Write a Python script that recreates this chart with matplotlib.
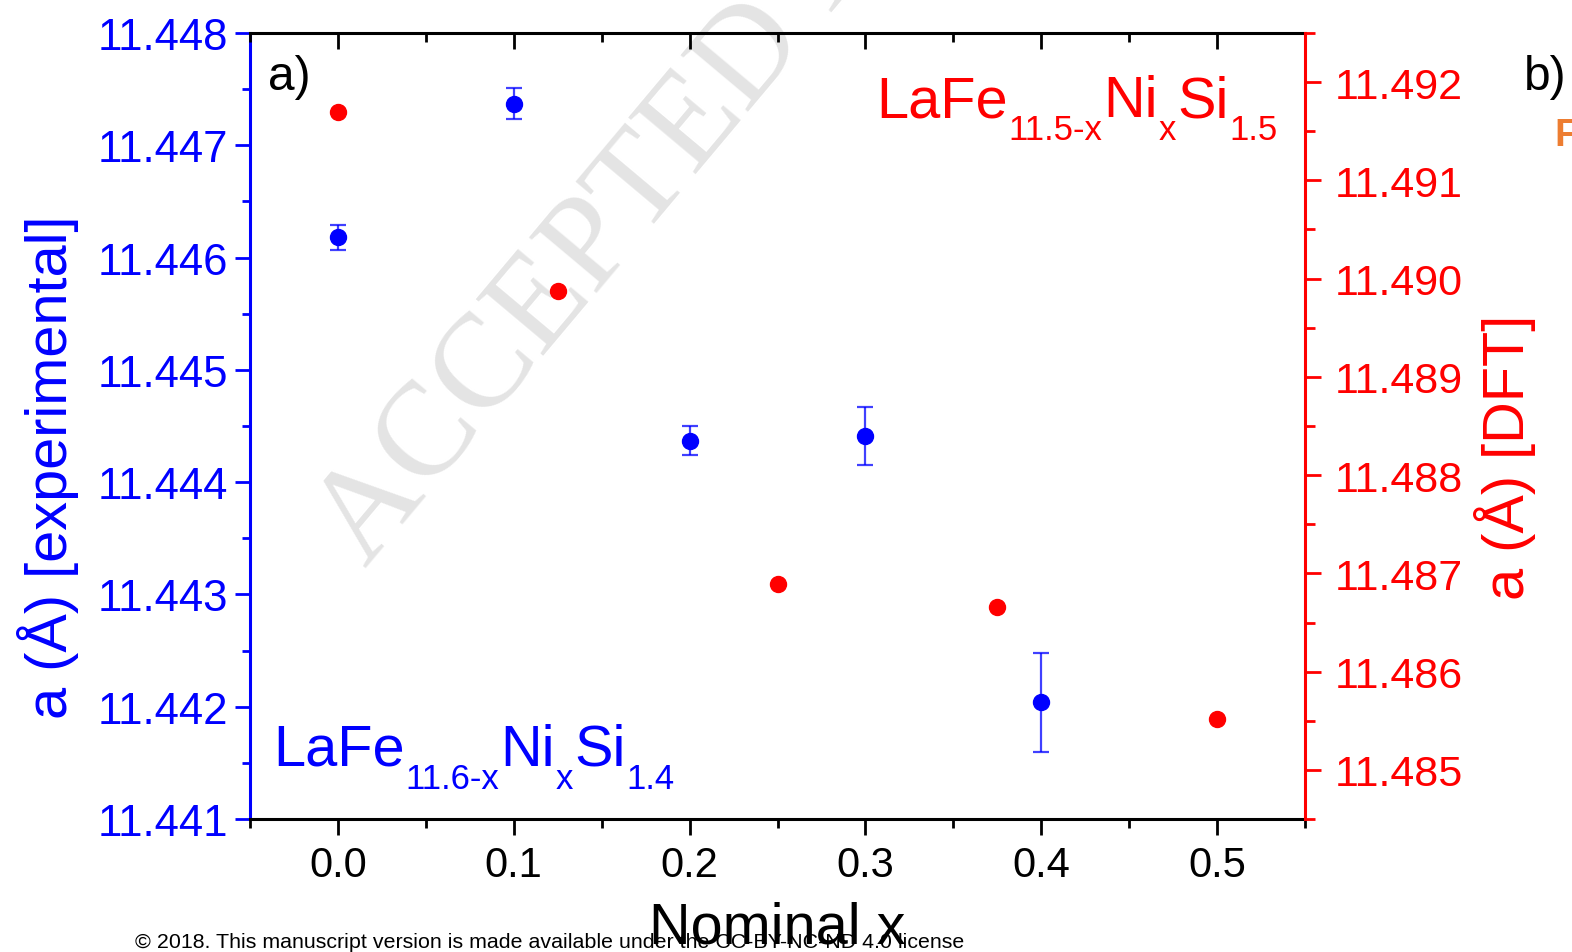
import matplotlib
matplotlib.use("Agg")
import matplotlib.pyplot as plt
from matplotlib.ticker import MultipleLocator, FormatStrFormatter
from matplotlib.transforms import IdentityTransform

plt.rcParams['font.family'] = ['Liberation Sans', 'DejaVu Sans']

# data
x_exp = [0.0, 0.1, 0.2, 0.3, 0.4]
a_exp = [11.44618, 11.44737, 11.44437, 11.44441, 11.44204]
a_exp_err = [0.00011, 0.00014, 0.00013, 0.00026, 0.00044]

x_dft = [0.0, 0.125, 0.25, 0.375, 0.5]
a_dft = [11.4917, 11.48987, 11.48689, 11.48666, 11.48552]

x_ticks = [0.0, 0.1, 0.2, 0.3, 0.4, 0.5]

W, H = 1572, 953
fig = plt.figure(figsize=(W / 100, H / 100), dpi=100)
fig.patch.set_facecolor("white")
ax = fig.add_axes([250 / W, 1 - 820 / H, 1055 / W, 786 / H])
ax2 = ax.twinx()

# experimental (left, blue)
ax.errorbar(x_exp, a_exp, yerr=a_exp_err, fmt='o', color='blue', ms=11.5,
            ecolor=(0, 0, 1, 0.75), elinewidth=1.6, capsize=5.5, capthick=1.6,
            zorder=3)
# DFT (right, red)
ax2.plot(x_dft, a_dft, 'o', color='red', ms=11.5, zorder=3)

ax.set_xlim(-0.05, 0.55)
ax.set_ylim(11.441, 11.448)
ax2.set_ylim(11.4845, 11.4925)

ax.set_xticks(x_ticks)
ax.xaxis.set_minor_locator(MultipleLocator(0.05))
ax.xaxis.set_major_formatter(FormatStrFormatter('%.1f'))
ax.yaxis.set_major_locator(MultipleLocator(0.001))
ax.yaxis.set_minor_locator(MultipleLocator(0.0005))
ax.yaxis.set_major_formatter(FormatStrFormatter('%.3f'))
ax2.yaxis.set_major_locator(MultipleLocator(0.001))
ax2.yaxis.set_minor_locator(MultipleLocator(0.0005))
ax2.yaxis.set_major_formatter(FormatStrFormatter('%.3f'))

# spines
for s in ax.spines.values():
    s.set_linewidth(2.2)
ax.spines['left'].set_color('blue')
ax.spines['right'].set_visible(False)
for name in ['left', 'top', 'bottom']:
    ax2.spines[name].set_visible(False)
ax2.spines['right'].set_color('red')
ax2.spines['right'].set_linewidth(2.2)

ax.tick_params(axis='y', which='major', length=11, width=2, colors='blue',
               labelsize=31.5, pad=5)
ax.tick_params(axis='y', which='minor', length=6, width=2, colors='blue')
ax.tick_params(axis='x', which='major', length=11.5, width=2, labelsize=30,
               pad=7)
ax.tick_params(axis='x', which='minor', length=6.5, width=2)
ax2.tick_params(axis='y', which='major', length=11.5, width=2, colors='red',
                labelsize=31, pad=10)
ax2.tick_params(axis='y', which='minor', length=7, width=2, colors='red')

# inward ticks on top
ax2.xaxis.set_visible(True)
ax2.tick_params(axis='x', which='both', bottom=False, labelbottom=False,
                top=True, labeltop=False, direction='in', width=2)
ax2.tick_params(axis='x', which='major', length=11.5)
ax2.tick_params(axis='x', which='minor', length=6.5)

ax.set_ylabel('a (Å) [experimental]', color='blue', fontsize=41.5)
ax.yaxis.label.set_verticalalignment('center')
ax.yaxis.set_label_coords((48 - 250) / 1055, (820 - 467) / 786)
ax2.set_ylabel('a (Å) [DFT]', color='red', fontsize=41.5, rotation=90)
ax2.yaxis.label.set_verticalalignment('center')
ax2.yaxis.set_label_coords((1505 - 250) / 1055, (820 - 457) / 786)

ax.text(0.5, (820 - 944) / 786, 'Nominal x', transform=ax.transAxes,
        ha='center', va='baseline', fontsize=41.5)

# watermark
ax.text((365 - 250) / 1055, (820 - 568) / 786, 'ACCEPTED MANUSCRIPT',
        transform=ax.transAxes, rotation=50, rotation_mode='anchor',
        ha='left', va='baseline', fontsize=96, color='#e4e4e4',
        family='Liberation Serif', clip_on=False, zorder=0)

ax.text((268 - 250) / 1055, (820 - 90) / 786, 'a)', transform=ax.transAxes,
        fontsize=34.5, va='baseline')
fig.text(1524 / W, 1 - 90 / H, 'b)', fontsize=34.5, va='baseline')
fig.text(1554 / W, 1 - 146 / H, 'F', fontsize=28, fontweight='bold',
         color='#ED7D31', va='baseline')

fig.text(135 / W, 1 - 948 / H,
         '© 2018. This manuscript version is made available under the CC-BY-NC-ND 4.0 license',
         fontsize=15.4, va='baseline')


def formula(x0, y0, parts, color):
    renderer = fig.canvas.get_renderer()
    px, py = ax.transAxes.transform((x0, y0))
    for s, sub in parts:
        size = 25 if sub else 41.5
        dy = -23 if sub else 0
        t = fig.text(px, py + dy, s, transform=IdentityTransform(),
                     fontsize=size, color=color, va='baseline')
        px = t.get_window_extent(renderer).x1 + 1


formula((273 - 250) / 1055, (820 - 766) / 786,
        [('LaFe', 0), ('11.6-x', 1), ('Ni', 0), ('x', 1), ('Si', 0), ('1.4', 1)],
        'blue')
formula((876 - 250) / 1055, (820 - 117) / 786,
        [('LaFe', 0), ('11.5-x', 1), ('Ni', 0), ('x', 1), ('Si', 0), ('1.5', 1)],
        'red')

fig.savefig('out.png', dpi=100)
